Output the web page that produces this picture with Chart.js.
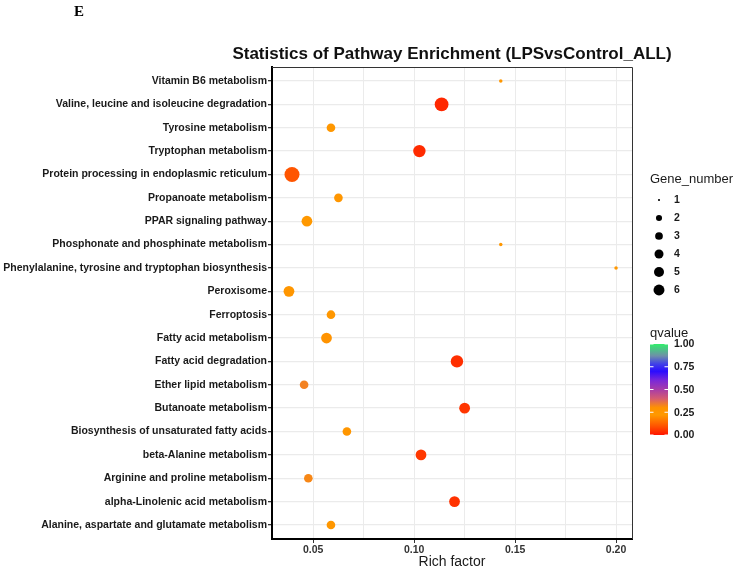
<!DOCTYPE html>
<html>
<head>
<meta charset="utf-8">
<script src="https://cdn.jsdelivr.net/npm/chart.js@4.4.0/dist/chart.umd.min.js"></script>
<style>
  html, body { margin: 0; padding: 0; background: #fff; }
  #wrap { width: 738px; height: 571px; }
</style>
</head>
<body>
<div id="wrap"><canvas id="chart" width="738" height="571"></canvas></div>
<script>
// Pathways, listed top to bottom
const pathways = [
    'Vitamin B6 metabolism',
    'Valine, leucine and isoleucine degradation',
    'Tyrosine metabolism',
    'Tryptophan metabolism',
    'Protein processing in endoplasmic reticulum',
    'Propanoate metabolism',
    'PPAR signaling pathway',
    'Phosphonate and phosphinate metabolism',
    'Phenylalanine, tyrosine and tryptophan biosynthesis',
    'Peroxisome',
    'Ferroptosis',
    'Fatty acid metabolism',
    'Fatty acid degradation',
    'Ether lipid metabolism',
    'Butanoate metabolism',
    'Biosynthesis of unsaturated fatty acids',
    'beta-Alanine metabolism',
    'Arginine and proline metabolism',
    'alpha-Linolenic acid metabolism',
    'Alanine, aspartate and glutamate metabolism'
];
const richFactor = [0.1429, 0.1136, 0.0588, 0.1026, 0.0395, 0.0625, 0.0469, 0.1429, 0.2000, 0.0380,
                    0.0588, 0.0566, 0.1212, 0.0455, 0.1250, 0.0667, 0.1034, 0.0476, 0.1200, 0.0588];
const geneNumber = [1, 5, 2, 4, 6, 2, 3, 1, 1, 3,
                    2, 3, 4, 2, 3, 2, 3, 2, 3, 2];
const qValue = [0.24, 0.03, 0.24, 0.035, 0.10, 0.25, 0.23, 0.24, 0.24, 0.25,
                0.24, 0.21, 0.04, 0.33, 0.05, 0.25, 0.055, 0.32, 0.045, 0.24];

// Axis ticks
const xTicks = [0.05, 0.075, 0.10, 0.125, 0.15, 0.175, 0.20];
const xMajorTicks = [0.05, 0.10, 0.15, 0.20];
const sizeLegend = [1, 2, 3, 4, 5, 6];
const qLegendTicks = [0, 0.25, 0.5, 0.75, 1];

// Colour scale for qvalue (red -> orange -> purple -> blue -> green)
const qStops = [
    [0.00, '#ff1500'], [0.10, '#ff5500'], [0.22, '#ff9900'], [0.30, '#ff9200'],
    [0.40, '#d65c70'], [0.50, '#a83ca8'], [0.60, '#7a28d8'], [0.70, '#2a0cff'],
    [0.78, '#4040e8'], [0.87, '#6e90a8'], [1.00, '#30ee6a']
];

const FONT = '"Liberation Sans", Arial, sans-serif';

function hexToRgb(h) {
    return [parseInt(h.slice(1, 3), 16), parseInt(h.slice(3, 5), 16), parseInt(h.slice(5, 7), 16)];
}

function qColor(q) {
    for (let i = 1; i < qStops.length; i++) {
        if (q <= qStops[i][0]) {
            const [q0, c0] = qStops[i - 1];
            const [q1, c1] = qStops[i];
            const t = (q - q0) / (q1 - q0);
            const a = hexToRgb(c0), b = hexToRgb(c1);
            const rgb = a.map((v, k) => Math.round(v + (b[k] - v) * t));
            return `rgb(${rgb[0]},${rgb[1]},${rgb[2]})`;
        }
    }
    return qStops[qStops.length - 1][1];
}

// ggplot-like area scale, size 1..6
function sizeScale(n) {
    return 1 + 5 * Math.sqrt((n - 1) / 5);
}
function plotRadius(n) { return 0.6 + 1.15 * sizeScale(n); }
function legendRadius(n) { return 0.2 + 0.88 * sizeScale(n); }

// Title, panel border and the two legends
const decorPlugin = {
    id: 'decor',
    beforeDatasetsDraw(chart) {
        const { ctx, chartArea: a } = chart;
        ctx.save();
        ctx.strokeStyle = '#333';
        ctx.lineWidth = 1;
        ctx.beginPath();
        ctx.moveTo(a.left, a.top + 0.5);
        ctx.lineTo(a.right + 0.5, a.top + 0.5);
        ctx.lineTo(a.right + 0.5, a.bottom);
        ctx.stroke();
        ctx.restore();
    },
    afterDraw(chart) {
        const { ctx, chartArea: a } = chart;
        ctx.save();

        // panel letter
        ctx.fillStyle = '#000';
        ctx.font = 'bold 15px "Liberation Serif", "Times New Roman", serif';
        ctx.textAlign = 'left';
        ctx.textBaseline = 'alphabetic';
        ctx.fillText('E', 74, 16);

        // title
        ctx.font = 'bold 17px ' + FONT;
        ctx.textAlign = 'center';
        ctx.fillStyle = '#111';
        ctx.fillText('Statistics of Pathway Enrichment (LPSvsControl_ALL)', (a.left + a.right) / 2, 59);

        // Gene_number legend
        const lx = 650;
        ctx.textAlign = 'left';
        ctx.textBaseline = 'middle';
        ctx.font = '13px ' + FONT;
        ctx.fillStyle = '#1a1a1a';
        ctx.fillText('Gene_number', lx, 179);
        sizeLegend.forEach((n, i) => {
            const y = 200 + i * 18;
            ctx.fillStyle = '#000';
            ctx.beginPath();
            ctx.arc(659, y, legendRadius(n), 0, Math.PI * 2);
            ctx.fill();
            ctx.font = 'bold 10.5px ' + FONT;
            ctx.fillStyle = '#1a1a1a';
            ctx.fillText(String(n), 674, y + 0.5);
        });

        // qvalue colour bar
        ctx.font = '13px ' + FONT;
        ctx.fillStyle = '#1a1a1a';
        ctx.fillText('qvalue', lx, 333);
        const barTop = 344, barBottom = 435, barLeft = 650, barW = 18;
        const grad = ctx.createLinearGradient(0, barBottom, 0, barTop);
        qStops.forEach(([q, c]) => grad.addColorStop(q, c));
        ctx.fillStyle = grad;
        ctx.fillRect(barLeft, barTop, barW, barBottom - barTop);
        qLegendTicks.forEach(q => {
            const y = barBottom - q * (barBottom - barTop);
            ctx.strokeStyle = '#fff';
            ctx.lineWidth = 1;
            ctx.beginPath();
            ctx.moveTo(barLeft, y); ctx.lineTo(barLeft + 3.5, y);
            ctx.moveTo(barLeft + barW - 3.5, y); ctx.lineTo(barLeft + barW, y);
            ctx.stroke();
            ctx.font = 'bold 10.5px ' + FONT;
            ctx.fillStyle = '#1a1a1a';
            ctx.fillText(q.toFixed(2), 674, y + 0.5);
        });

        ctx.restore();
    }
};

document.addEventListener('DOMContentLoaded', function() {
    const points = pathways.map((p, i) => ({ x: richFactor[i], y: i, r: plotRadius(geneNumber[i]) }));
    const colors = qValue.map(q => qColor(q));

    const ctx = document.getElementById('chart').getContext('2d');
    new Chart(ctx, {
        type: 'bubble',
        data: {
            datasets: [{
                data: points,
                backgroundColor: colors,
                borderWidth: 0,
                hoverRadius: 0
            }]
        },
        plugins: [decorPlugin],
        options: {
            responsive: false,
            animation: false,
            layout: { padding: { top: 67, right: 106, left: 0, bottom: 0 } },
            plugins: {
                legend: { display: false },
                tooltip: { enabled: false }
            },
            scales: {
                x: {
                    type: 'linear',
                    min: 0.0296,
                    max: 0.2079,
                    afterBuildTicks: axis => { axis.ticks = xTicks.map(v => ({ value: v })); },
                    afterFit: axis => { axis.height = 32; },
                    ticks: {
                        autoSkip: false,
                        maxRotation: 0,
                        padding: 1,
                        color: '#333',
                        font: { family: FONT, size: 10.5, weight: 'bold' },
                        callback: v => xMajorTicks.includes(v) ? v.toFixed(2) : ''
                    },
                    grid: {
                        color: '#ebebeb',
                        lineWidth: 1,
                        tickLength: 4,
                        tickColor: c => (c.tick && xMajorTicks.includes(c.tick.value)) ? '#333' : 'rgba(0,0,0,0)'
                    },
                    border: { color: '#000', width: 2 },
                    title: {
                        display: true,
                        text: 'Rich factor',
                        color: '#1a1a1a',
                        font: { family: FONT, size: 14 },
                        padding: { top: 0, bottom: 0 }
                    }
                },
                y: {
                    type: 'linear',
                    reverse: true,
                    min: -0.6,
                    max: 19.6,
                    afterBuildTicks: axis => { axis.ticks = pathways.map((p, i) => ({ value: i })); },
                    afterFit: axis => { axis.width = 272; },
                    ticks: {
                        autoSkip: false,
                        padding: 1,
                        color: '#1a1a1a',
                        font: { family: FONT, size: 10.5, weight: 'bold' },
                        callback: (v, i) => pathways[i]
                    },
                    grid: {
                        color: '#ebebeb',
                        lineWidth: 1.3,
                        tickLength: 4,
                        tickColor: '#333'
                    },
                    border: { color: '#000', width: 2 }
                }
            }
        }
    });
});
</script>
</body>
</html>
